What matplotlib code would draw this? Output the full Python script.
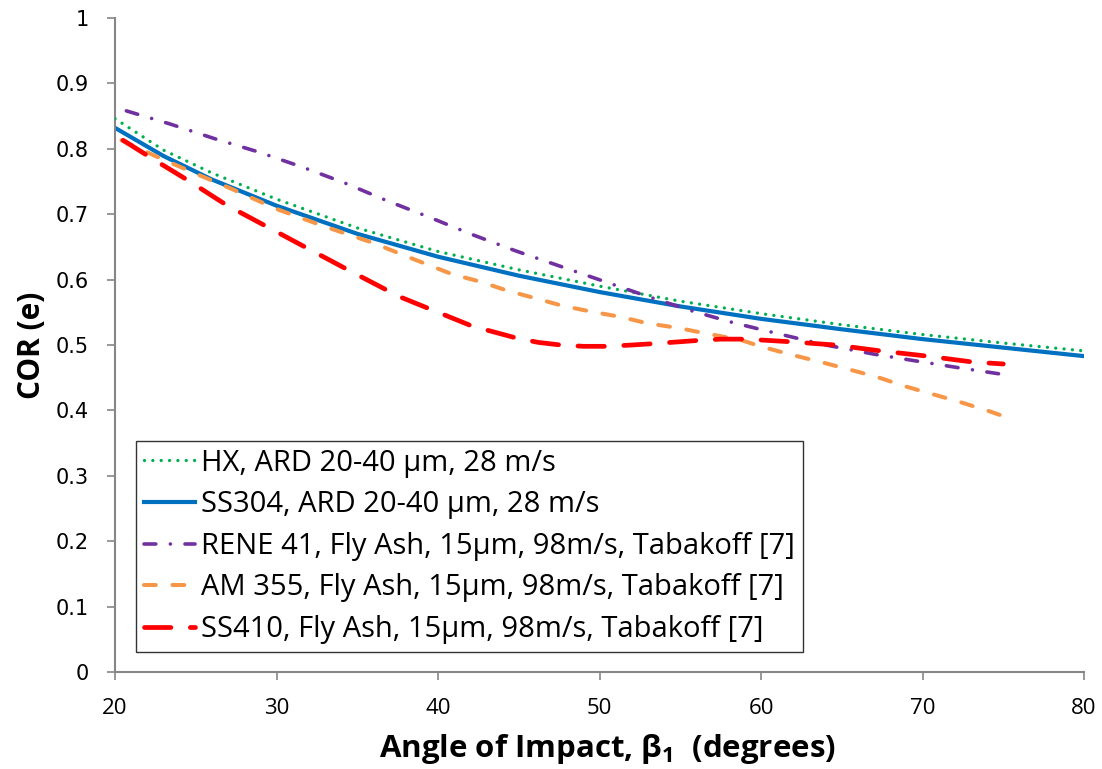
import matplotlib
matplotlib.use("Agg")
import matplotlib.pyplot as plt
from matplotlib.lines import Line2D

# Coefficient of restitution vs. impact angle
hx_angle = [20, 23, 26, 30, 35, 40, 45, 50, 55, 60, 65, 70, 75, 80]
hx_cor = [0.846, 0.798, 0.763, 0.723, 0.679, 0.643, 0.615, 0.590, 0.567, 0.548, 0.531, 0.516, 0.503, 0.491]

ss304_angle = [20, 23, 26, 30, 35, 40, 45, 50, 55, 60, 65, 70, 75, 80]
ss304_cor = [0.832, 0.789, 0.753, 0.713, 0.670, 0.635, 0.606, 0.581, 0.559, 0.540, 0.524, 0.509, 0.496, 0.483]

rene41_angle = [20.7, 23.4, 26.1, 28.9, 31.6, 34.2, 36.8, 39.5, 42.1, 44.8, 47.5, 50.2, 52.9, 55.6, 58.3, 61.1, 64, 67, 69.5, 72.3, 75]
rene41_cor = [0.858, 0.838, 0.816, 0.795, 0.772, 0.748, 0.721, 0.695, 0.669, 0.644, 0.621, 0.598, 0.575, 0.553, 0.534, 0.517, 0.500, 0.486, 0.476, 0.465, 0.455]

am355_angle = [20.4, 22.4, 25, 27.1, 30, 33, 36, 38, 40.9, 42.6, 44.3, 46.1, 47.7, 49.5, 51.3, 53.0, 54.9, 56.5, 58.7, 60.1, 61.9, 63.7, 65.4, 67.2, 68.9, 70.6, 72.3, 74.1, 74.8]
am355_cor = [0.813, 0.790, 0.762, 0.740, 0.708, 0.681, 0.656, 0.636, 0.608, 0.597, 0.583, 0.571, 0.560, 0.551, 0.543, 0.533, 0.526, 0.518, 0.508, 0.497, 0.485, 0.474, 0.463, 0.451, 0.437, 0.425, 0.413, 0.399, 0.393]

ss410_angle = [20.5, 22.5, 24.5, 26.9, 29.4, 31.9, 34.8, 37.6, 39.5, 42.1, 44.8, 46.2, 47.6, 49, 50.5, 52, 53.3, 56.1, 57.5, 59.1, 61.8, 64.6, 67.4, 70.3, 73.1, 75.0]
ss410_cor = [0.813, 0.782, 0.752, 0.714, 0.681, 0.648, 0.610, 0.574, 0.555, 0.529, 0.511, 0.504, 0.500, 0.498, 0.498, 0.500, 0.502, 0.507, 0.509, 0.509, 0.505, 0.500, 0.491, 0.483, 0.474, 0.471]

labels = [
    "HX, ARD 20-40 µm, 28 m/s",
    "SS304, ARD 20-40 µm, 28 m/s",
    "RENE 41, Fly Ash, 15µm, 98m/s, Tabakoff [7]",
    "AM 355, Fly Ash, 15µm, 98m/s, Tabakoff [7]",
    "SS410, Fly Ash, 15µm, 98m/s, Tabakoff [7]",
]

x_ticks = [20, 30, 40, 50, 60, 70, 80]
y_ticks = [0, 0.1, 0.2, 0.3, 0.4, 0.5, 0.6, 0.7, 0.8, 0.9, 1]
y_tick_labels = ["0", "0.1", "0.2", "0.3", "0.4", "0.5", "0.6", "0.7", "0.8", "0.9", "1"]

plt.rcParams["lines.scale_dashes"] = False
plt.rcParams["mathtext.fontset"] = "custom"
plt.rcParams["mathtext.rm"] = "Open Sans"
plt.rcParams["mathtext.bf"] = "Open Sans:bold"

# series styles: colour, width, dash pattern
styles = [
    dict(color="#00B050", lw=2.4, linestyle=(0, (0.01, 6.0)), dash_capstyle="round"),
    dict(color="#0070C0", lw=3.0, linestyle="-"),
    dict(color="#7030A0", lw=2.6, linestyle=(0, (8.5, 10.5, 0.01, 10.5)), dash_capstyle="round"),
    dict(color="#F79646", lw=2.9, linestyle=(0, (8.5, 12.0)), dash_capstyle="round"),
    dict(color="#FF0000", lw=3.4, linestyle=(0, (19.0, 14.0)), dash_capstyle="round"),
]

fig = plt.figure(figsize=(11.02, 7.69), dpi=100)
ax = fig.add_axes([0.1044, 0.1261, 0.8793, 0.8505])

series = [
    (hx_angle, hx_cor),
    (ss304_angle, ss304_cor),
    (rene41_angle, rene41_cor),
    (am355_angle, am355_cor),
    (ss410_angle, ss410_cor),
]
zorders = [3, 2, 3, 3, 3]
handles = []
for (xs, ys), st, z in zip(series, styles, zorders):
    ax.plot(xs, ys, zorder=z, **st)
    handles.append(Line2D([], [], **st))

ax.set_xlim(20, 80)
ax.set_ylim(0, 1)
ax.set_xticks(x_ticks)
ax.set_yticks(y_ticks)
ax.set_yticklabels(y_tick_labels)

for s in ["top", "right"]:
    ax.spines[s].set_visible(False)
for s in ["left", "bottom"]:
    ax.spines[s].set_color("#868686")
    ax.spines[s].set_linewidth(1.5)
ax.tick_params(axis="both", direction="out", length=6, width=1.2, color="#868686")
ax.tick_params(axis="x", pad=13)
ax.tick_params(axis="y", pad=13)

for t in ax.get_yticklabels():
    t.set_fontfamily("DejaVu Sans")
    t.set_fontsize(15)
for t in ax.get_xticklabels():
    t.set_fontfamily("Open Sans")
    t.set_fontsize(16)

ax.set_ylabel("COR (e)", fontsize=21.5, fontweight="bold", family="Open Sans", labelpad=6)
ax.set_xlabel(r"Angle of Impact, β$_\mathbf{1}$  (degrees)", fontsize=22.5,
              fontweight="bold", family="Open Sans", labelpad=9)
ax.xaxis.label.set_x(0.508)

leg = ax.legend(handles, labels, loc="lower left", bbox_to_anchor=(0.0217, 0.0306),
                borderaxespad=0, frameon=True, fancybox=False, edgecolor="black",
                prop={"family": "Open Sans", "size": 21}, handlelength=1.75,
                handletextpad=0.2, labelspacing=0.43, borderpad=0.28)
leg.get_frame().set_linewidth(1.0)

fig.savefig("out.png", dpi=100)
